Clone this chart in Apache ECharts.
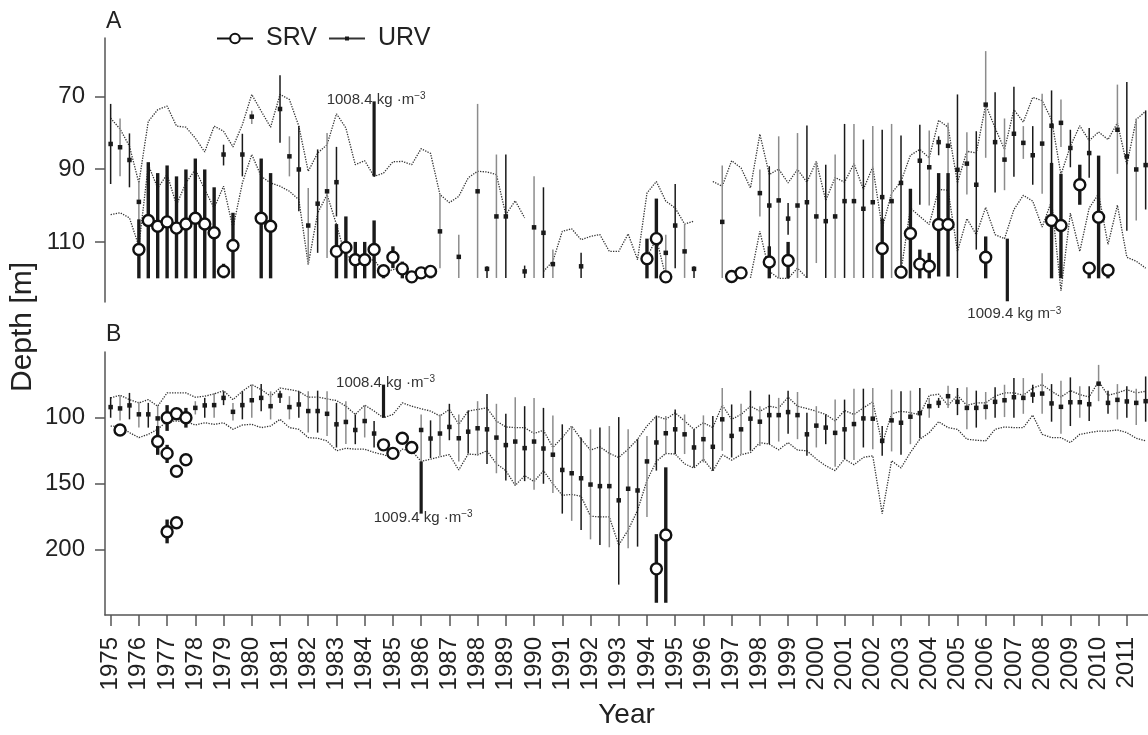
<!DOCTYPE html>
<html><head><meta charset="utf-8">
<script src="https://cdn.jsdelivr.net/npm/echarts@6/dist/echarts.min.js"></script>
<style>html,body{margin:0;padding:0;background:#fff}#c{width:1148px;height:735px}</style>
</head><body><div id="c"></div>
<script>
// ---------- DATA ----------
// Time index i -> year = 1975 + i/3 (three sampling periods per year)
const START_YEAR = 1975;
const STEPS_PER_YEAR = 3;
const yearTicks = [1975,1976,1977,1978,1979,1980,1981,1982,1983,1984,1985,1986,1987,1988,1989,1990,1991,1992,1993,1994,1995,1996,1997,1998,1999,2000,2001,2002,2003,2004,2005,2006,2007,2008,2009,2010,2011];
const depthTicksA = [70, 90, 110];
const depthTicksB = [100, 150, 200];

// Panel A: isopycnal depths (dotted), null = not shown
const isoUpperA = [76.0,79.0,83.7,93.8,76.9,73.7,72.7,78.2,78.5,81.5,85.3,78.2,79.6,83.9,77.8,69.5,74.1,78.5,69.5,70.9,
  78.2,90.6,85.6,83.3,74.8,78.7,88.8,87.7,92.0,91.1,88.0,87.9,88.8,84.4,85.7,97.0,99.2,97.5,92.4,90.6,
  90.8,91.5,102.5,98.7,103.4,null,118.1,115.3,107.1,106.4,109.4,108.5,108.0,112.6,112.6,107.8,114.9,96.6,93.4,98.8,
  100.7,105.1,104.3,null,93.4,94.7,87.7,89.7,95.2,80.4,91.5,90.0,93.8,90.1,93.6,87.9,98.6,92.3,93.6,88.5,
  95.6,89.4,106.2,96.6,93.4,86.2,84.6,86.9,76.6,78.5,93.8,85.1,85.6,72.3,78.7,84.6,73.7,77.1,70.3,71.2,
  76.4,91.5,83.7,78.1,82.2,79.8,81.9,77.3,88.8,76.4,74.1];
const isoLowerA = [102.5,102.0,103.4,111.2,88.8,95.2,91.5,99.8,93.8,90.1,95.6,100.7,94.7,106.2,93.8,86.0,92.0,93.8,94.7,96.1,
  98.4,116.2,102.1,97.0,105.2,114.4,113.5,115.3,114.9,118.5,117.6,117.2,119.0,118.6,118.3,null,null,null,null,null,
  null,null,null,null,null,null,null,null,null,null,null,null,null,null,null,null,null,114.3,109.0,119.6,
  null,null,null,null,null,null,null,null,119.9,107.1,118.1,120.0,120.0,117.2,119.9,null,null,null,null,null,
  null,null,null,null,118.1,100.7,103.0,105.2,95.6,95.8,112.6,103.6,108.0,100.5,108.0,109.1,101.1,97.2,98.8,105.9,
  98.8,123.4,102.1,112.6,100.7,96.8,110.7,99.9,114.2,115.3,117.2];

// URV: [time index, mean depth, lower bound, upper bound]
const urvA = [
  [0,83.1,72.1,94.1],[1,84.0,76.1,92.0],[2,87.5,80.2,95.0],[3,99.0,93.4,112.0],[12,86.0,83.3,89.0],
  [14,86.0,80.3,92.0],[15,75.6,74.0,77.6],[18,73.5,64.2,82.8],[19,86.5,81.0,92.0],[20,90.1,78.2,101.6],
  [21,105.5,95.2,116.2],[22,99.5,84.6,113.0],[23,96.1,80.1,114.4],[24,93.6,83.9,103.0],[35,107.1,97.0,117.2],
  [37,114.1,108.0,119.9],[39,96.1,72.1,119.9],[40,117.4,116.7,119.9],[41,103.0,86.0,119.9],[42,103.0,86.0,119.9],
  [44,118.1,116.5,119.9],[45,106.0,92.0,119.9],[46,107.5,95.0,119.9],[47,116.1,112.1,119.9],[50,116.7,113.0,119.9],
  [59,113.0,108.0,119.9],[60,105.5,94.1,117.2],[61,112.6,105.1,119.9],[62,117.4,116.7,119.9],[65,104.5,89.0,119.9],
  [69,96.6,90.1,103.0],[70,100.0,89.2,119.9],[71,98.6,81.0,119.9],[72,103.6,99.3,108.0],[73,100.0,80.1,119.9],
  [74,99.1,78.0,119.9],[75,103.0,87.9,115.8],[76,104.3,88.8,119.9],[77,103.0,86.0,119.9],[78,98.8,77.6,119.9],
  [79,98.8,77.6,119.9],[80,100.9,81.9,119.9],[81,99.1,78.2,119.9],[82,97.7,79.2,119.9],[83,98.8,77.6,119.9],
  [84,93.8,80.8,117.2],[86,87.7,77.8,99.8],[87,89.5,79.4,100.0],[88,82.6,81.0,86.2],[89,83.6,77.3,91.7],
  [90,90.2,69.5,119.9],[91,88.5,79.9,97.0],[92,94.3,79.6,112.1],[93,72.3,57.6,86.9],[94,82.6,68.9,96.4],
  [95,87.4,76.1,95.8],[96,80.3,67.4,92.1],[97,82.8,78.2,87.2],[98,86.2,78.2,94.3],[99,83.0,69.3,96.8],
  [100,78.1,68.4,119.9],[101,77.3,70.9,83.9],[102,84.2,79.2,89.5],[104,85.6,78.7,92.4],[107,79.2,66.8,91.3],
  [108,86.5,66.1,106.9],[109,90.1,76.1,104.1],[110,88.9,73.9,101.1]];

// SRV: [time index, mean depth, lower bound, upper bound]
const srvA = [
  [3,112.1,103.8,120.0],[4,104.1,88.1,120.0],[5,105.7,91.1,120.0],[6,104.5,89.0,120.0],[7,106.2,92.0,120.0],
  [8,105.1,90.1,120.0],[9,103.5,87.1,120.0],[10,105.1,90.1,120.0],[11,107.5,95.0,120.0],[12,118.1,116.0,120.0],
  [13,111.0,102.0,120.0],[16,103.5,87.1,120.0],[17,105.7,91.1,120.0],[24,112.6,105.1,120.0],[25,111.5,103.0,120.0],
  [26,114.9,110.0,120.0],[27,114.9,110.0,120.0],[28,112.1,104.1,120.0],[29,117.9,116.5,120.0],[30,114.2,111.2,117.2],
  [31,117.4,115.4,120.0],[32,119.6,119.6,119.6],[33,118.5,117.0,120.0],[34,118.1,116.5,120.0],[57,114.6,109.1,120.0],
  [58,109.1,98.1,120.0],[59,119.6,119.6,119.6],[66,119.5,119.5,119.5],[67,118.5,118.5,118.5],[70,115.5,111.2,120.0],
  [72,115.1,110.0,120.0],[82,111.8,103.6,120.0],[84,118.3,117.2,120.0],[85,107.7,95.4,120.0],[86,116.1,112.1,120.0],
  [87,116.7,113.0,120.0],[88,105.2,91.1,119.5],[89,105.2,91.1,119.5],[93,114.2,108.5,120.0],[100,104.1,88.3,120.0],
  [101,105.5,91.3,120.0],[103,94.3,88.8,99.8],[104,117.2,115.5,120.0],[105,103.2,86.3,120.0],[106,117.8,116.8,120.0]];

// Panel B
const isoUpperB = [84.9,82.9,86.2,88.7,86.2,91.2,81.1,81.1,81.1,84.4,83.6,81.9,79.4,86.2,79.9,74.8,78.6,83.6,77.4,78.6,
  79.9,84.4,84.2,85.7,86.9,91.2,97.5,90.4,94.9,100.0,97.5,88.7,91.2,93.2,94.9,98.7,93.7,105.0,94.9,93.7,
  92.5,102.5,107.0,107.5,107.5,112.0,109.5,122.6,115.1,106.3,116.3,124.6,122.1,127.1,130.2,123.9,116.3,106.3,98.7,101.2,
  96.2,102.5,108.8,103.8,107.5,90.4,101.2,97.5,91.2,95.0,91.2,92.5,84.4,91.2,93.0,95.0,97.5,102.5,94.5,97.5,
  92.5,87.9,120.0,97.0,95.0,96.2,97.5,83.1,82.1,90.6,83.1,90.6,88.7,88.7,83.6,81.1,81.1,82.9,77.4,74.9,
  79.9,84.2,79.4,82.4,84.2,72.4,82.9,81.1,78.6,81.1,79.9];
const isoLowerB = [106.3,106.8,111.3,115.1,112.6,108.8,102.5,102.5,103.0,105.5,103.8,105.0,103.8,108.8,105.5,105.0,107.5,106.3,101.2,107.5,
  108.8,115.1,115.6,117.6,125.1,123.2,123.9,123.9,126.4,128.1,130.6,123.9,125.1,133.2,131.5,129.6,128.1,139.7,127.6,128.1,
  125.1,135.1,140.2,151.5,144.0,148.5,140.2,150.2,159.0,158.3,159.8,174.9,175.4,175.4,196.8,185.4,170.4,147.7,133.2,127.1,
  127.6,135.1,138.2,131.5,140.7,128.1,132.2,128.1,126.4,118.9,120.1,124.4,118.9,124.6,125.1,131.4,136.5,140.2,131.4,135.7,
  130.2,128.9,172.9,132.7,138.2,126.4,116.3,111.3,103.0,107.5,108.8,116.3,117.1,117.6,108.8,107.0,107.5,107.5,98.0,112.6,
  115.1,115.1,118.9,112.6,111.3,110.1,110.1,109.3,111.3,115.6,117.6];

const urvB = [
  [0,91.9,84.2,100.0],[1,92.9,82.9,102.0],[2,90.6,81.1,101.2],[3,97.4,87.9,107.5],[4,97.4,88.7,107.5],
  [5,100.5,91.2,108.8],[9,92.5,87.4,97.5],[10,90.6,84.9,100.0],[11,90.4,81.1,100.0],[12,84.9,79.9,90.4],
  [13,95.5,88.7,102.0],[14,90.4,79.9,101.2],[15,86.7,74.8,100.0],[16,84.9,74.4,95.0],[17,91.2,79.9,101.3],
  [18,83.1,79.4,88.7],[19,91.9,83.6,101.2],[20,89.9,79.9,100.0],[21,94.9,79.9,111.3],[22,94.9,79.4,111.3],
  [23,97.0,79.9,113.8],[24,105.0,88.7,122.6],[25,103.2,87.4,120.0],[26,109.3,97.5,120.1],[27,102.5,90.4,115.0],
  [28,112.0,102.5,122.6],[33,109.3,97.5,133.2],[34,115.8,102.0,130.6],[35,112.0,97.5,128.9],[36,107.0,89.4,117.1],
  [37,115.6,97.5,133.2],[38,110.6,94.4,127.1],[39,108.0,87.4,128.9],[40,108.8,81.9,135.1],[41,115.1,89.4,142.2],
  [42,120.8,97.0,147.7],[43,118.1,84.4,151.5],[44,123.1,91.2,148.2],[45,118.1,84.9,154.8],[46,123.4,92.5,150.2],
  [47,128.1,98.2,157.3],[48,139.7,105.0,172.9],[49,142.2,106.3,178.4],[50,146.0,115.1,185.4],[51,150.8,108.8,192.5],
  [52,152.0,107.5,196.8],[53,152.0,106.3,198.5],[54,162.8,99.5,226.9],[55,154.0,108.8,199.2],[56,155.3,116.3,198.0],
  [57,133.2,113.8,175.4],[58,118.8,98.7,140.2],[59,111.8,98.7,128.0],[60,108.8,93.7,127.6],[61,112.6,97.5,127.6],
  [62,122.6,108.8,137.7],[63,116.3,98.2,133.9],[64,122.1,98.7,140.2],[65,101.2,77.4,125.1],[66,113.8,89.9,130.2],
  [67,108.8,89.4,127.6],[68,100.7,79.4,125.1],[69,103.0,91.2,121.4],[70,98.0,82.4,120.1],[71,98.0,84.9,118.1],
  [72,95.7,79.4,112.1],[73,98.0,80.4,116.3],[74,112.6,96.2,128.9],[75,106.0,91.2,122.6],[76,107.5,97.5,120.1],
  [77,111.5,86.2,137.2],[78,108.8,86.2,131.4],[79,104.8,77.9,132.2],[80,100.5,77.9,122.6],[81,100.7,77.4,123.9],
  [82,117.6,106.3,128.9],[83,102.0,78.6,125.6],[84,103.8,79.9,128.2],[85,99.2,79.4,120.1],[86,96.5,77.4,115.6],
  [87,91.2,84.9,100.0],[88,88.7,84.9,92.5],[89,83.6,75.6,92.5],[90,87.9,77.4,98.0],[91,92.5,76.9,108.8],
  [92,92.5,79.4,107.5],[93,91.7,80.4,101.3],[94,87.9,76.9,100.0],[95,86.7,74.9,99.5],[96,84.4,69.8,100.0],
  [97,84.9,69.8,97.0],[98,82.4,74.9,88.7],[99,81.6,66.1,97.0],[100,89.1,74.4,103.0],[101,91.7,71.8,112.1],
  [102,88.2,69.3,106.3],[103,88.2,76.1,100.0],[104,89.7,76.1,102.5],[105,74.1,59.8,87.4],[106,88.7,79.4,97.0],
  [107,86.4,74.4,101.3],[108,87.6,76.1,100.0],[109,88.7,77.9,105.5],[110,87.4,68.6,103.0]];

const srvB = [
  [1,109.3,109.3,109.3],[5,118.1,106.3,128.2],[6,100.0,90.4,110.0],[6,127.1,120.6,134.4],[6,186.7,177.4,195.5],
  [7,97.0,95.0,99.0],[7,140.7,140.7,140.7],[7,179.9,179.9,179.9],[8,100.0,92.5,107.5],[8,131.9,131.9,131.9],
  [29,120.6,120.6,120.6],[30,127.1,127.1,127.1],[31,115.6,115.6,115.6],[32,122.6,122.6,122.6],
  [58,214.9,188.5,240.7],[59,189.2,137.7,240.7]];

// Isopycnal annotations: [time index, depth from, depth to, density label, label end]
const notesA = [[28,71.4,92.0,'1008.4 kg ·m','top'],[95.3,109.1,126.3,'1009.4 kg m','bottom']];
const notesB = [[29,74.8,100.0,'1008.4 kg ·m','top'],[33,133.2,172.9,'1009.4 kg ·m','bottom']];

// ---------- CHART ----------
const FONT = 'Liberation Sans, Arial, Helvetica, sans-serif';
const TXT = '#222';
const AX = '#555';
const toYear = i => START_YEAR + i / STEPS_PER_YEAR;
const lineData = arr => arr.map((v, i) => [toYear(i), v == null ? '-' : v]);
const barData = arr => arr.map(d => [toYear(d[0]), d[1], d[2], d[3], d[0]]);

function errRender(width, alt) {
  return function (params, api) {
    const x = api.value(0);
    const p1 = api.coord([x, api.value(2)]);
    const p2 = api.coord([x, api.value(3)]);
    const idx = api.value(4);
    const col = alt && (Math.round(idx) % 2 === 1) ? '#8c8c8c' : '#1a1a1a';
    return { type: 'line', shape: { x1: p1[0], y1: p1[1], x2: p2[0], y2: p2[1] },
             style: { stroke: col, lineWidth: width, lineCap: 'butt' } };
  };
}
const notesBySeries = {};
function noteRender(params, api) {
  const x = api.value(0);
  const p1 = api.coord([x, api.value(1)]);
  const p2 = api.coord([x, api.value(2)]);
  const item = notesBySeries[params.seriesIndex][params.dataIndex];
  const top = item[4] === 'top';
  const plain = item[3].indexOf('·') < 0;
  const ty = top ? p1[1] - 2 : p2[1] + (plain ? 13 : 4);
  const tx = p1[0] + (plain ? 7 : 2);
  return { type: 'group', children: [
    { type: 'line', shape: { x1: p1[0], y1: p1[1], x2: p2[0], y2: p2[1] },
      style: { stroke: '#1a1a1a', lineWidth: 3.2 } },
    { type: 'text', x: tx, y: ty, z2: 10,
      style: { text: '{a|' + item[3] + '}{s|−3}', align: 'center', verticalAlign: 'middle',
        rich: { a: { fontSize: 15, fontFamily: FONT, fill: '#333', lineHeight: 17 },
                s: { fontSize: 10, fontFamily: FONT, fill: '#333', verticalAlign: 'top', lineHeight: 10 } } } }
  ]};
}

const xBase = { type: 'value', min: 1974.8, max: 2011.75, splitLine: { show: false } };
const series = [];
function addPanel(k, up, low, urv, srv, notes) {
  const ax = { xAxisIndex: k, yAxisIndex: k };
  const dotted = { type: 'line', ...ax, symbol: 'none', silent: true, connectNulls: false,
    lineStyle: { type: 'dotted', width: 1.3, color: '#333' }, z: 1 };
  series.push({ ...dotted, name: 'upper' + k, data: lineData(up) });
  series.push({ ...dotted, name: 'lower' + k, data: lineData(low) });
  series.push({ type: 'custom', ...ax, name: 'urvbar' + k, clip: true, z: 2, silent: true,
    renderItem: errRender(1.5, true), data: barData(urv) });
  series.push({ type: 'scatter', ...ax, name: 'urvpt' + k, symbol: 'rect', symbolSize: 4.5, z: 3, silent: true,
    itemStyle: { color: '#1a1a1a', opacity: 1 }, data: urv.map(d => [toYear(d[0]), d[1]]) });
  series.push({ type: 'custom', ...ax, name: 'srvbar' + k, clip: true, z: 4, silent: true,
    renderItem: errRender(3.4, false), data: barData(srv) });
  series.push({ type: 'scatter', ...ax, name: 'srvpt' + k, symbol: 'circle', symbolSize: 11, z: 5, silent: true,
    itemStyle: { color: '#fff', borderColor: '#111', borderWidth: 2.4, opacity: 1 }, data: srv.map(d => [toYear(d[0]), d[1]]) });
  notesBySeries[series.length] = notes;
  series.push({ type: 'custom', ...ax, name: 'note' + k, z: 6, silent: true, renderItem: noteRender,
    data: notes.map(n => [toYear(n[0]), n[1], n[2]]) });
}
addPanel(0, isoUpperA, isoLowerA, urvA, srvA, notesA);
addPanel(1, isoUpperB, isoLowerB, urvB, srvB, notesB);
series.push({ type: 'line', name: 'SRV', xAxisIndex: 0, yAxisIndex: 0, data: [], symbol: 'circle', symbolSize: 10,
  itemStyle: { color: '#fff', borderColor: '#111', borderWidth: 2.2 }, lineStyle: { color: '#111', width: 2 } });
series.push({ type: 'line', name: 'URV', xAxisIndex: 0, yAxisIndex: 0, data: [], symbol: 'rect', symbolSize: 4,
  itemStyle: { color: '#1a1a1a' }, lineStyle: { color: '#333', width: 1.2 } });

const yBase = (min, max, ticks) => ({
  type: 'value', inverse: true, min, max, splitLine: { show: false },
  axisLine: { show: true, lineStyle: { color: AX, width: 1.5 } },
  axisTick: { show: true, length: 10, customValues: ticks, lineStyle: { color: AX, width: 1.5 } },
  axisLabel: { customValues: ticks, fontSize: 24, color: TXT, fontFamily: FONT, margin: 20 }
});
const legendBase = { top: 26, padding: 0, itemWidth: 36, selectedMode: false,
  textStyle: { fontSize: 25, color: TXT, fontFamily: FONT, padding: [0, 0, 0, 8] } };

const option = {
  animation: false,
  backgroundColor: '#fff',
  textStyle: { fontFamily: FONT },
  title: [
    { text: 'A', left: 106, top: 10, padding: 0, textStyle: { fontSize: 23, fontWeight: 'normal', color: TXT, fontFamily: FONT } },
    { text: 'B', left: 106, top: 323, padding: 0, textStyle: { fontSize: 23, fontWeight: 'normal', color: TXT, fontFamily: FONT } }
  ],
  legend: [
    { ...legendBase, data: ['SRV'], left: 216, itemHeight: 12 },
    { ...legendBase, data: ['URV'], left: 328, itemHeight: 5 }
  ],
  grid: [
    { left: 105, right: 0, top: 38, height: 264 },
    { left: 105, right: 0, top: 352, height: 263 }
  ],
  xAxis: [
    { ...xBase, gridIndex: 0, show: false },
    { ...xBase, gridIndex: 1, name: 'Year', nameLocation: 'middle', nameGap: 86,
      nameTextStyle: { fontSize: 28, color: TXT, fontFamily: FONT },
      axisLine: { show: true, lineStyle: { color: AX, width: 1.5 } },
      axisTick: { show: true, length: 11, customValues: yearTicks, lineStyle: { color: AX, width: 1.5 } },
      axisLabel: { customValues: yearTicks, rotate: 90, fontSize: 24, color: TXT, fontFamily: FONT, margin: 22,
        formatter: v => String(v) } }
  ],
  yAxis: [
    { ...yBase(54, 126.5, depthTicksA), gridIndex: 0 },
    { ...yBase(50, 250, depthTicksB), gridIndex: 1 }
  ],
  graphic: [{ type: 'text', x: 23, y: 327, rotation: Math.PI / 2,
    style: { text: 'Depth [m]', fontSize: 30, fontFamily: FONT, fill: TXT, align: 'center', verticalAlign: 'middle' } }],
  series
};
const chart = echarts.init(document.getElementById('c'), null, { renderer: 'canvas' });
chart.setOption(option);
</script></body></html>
